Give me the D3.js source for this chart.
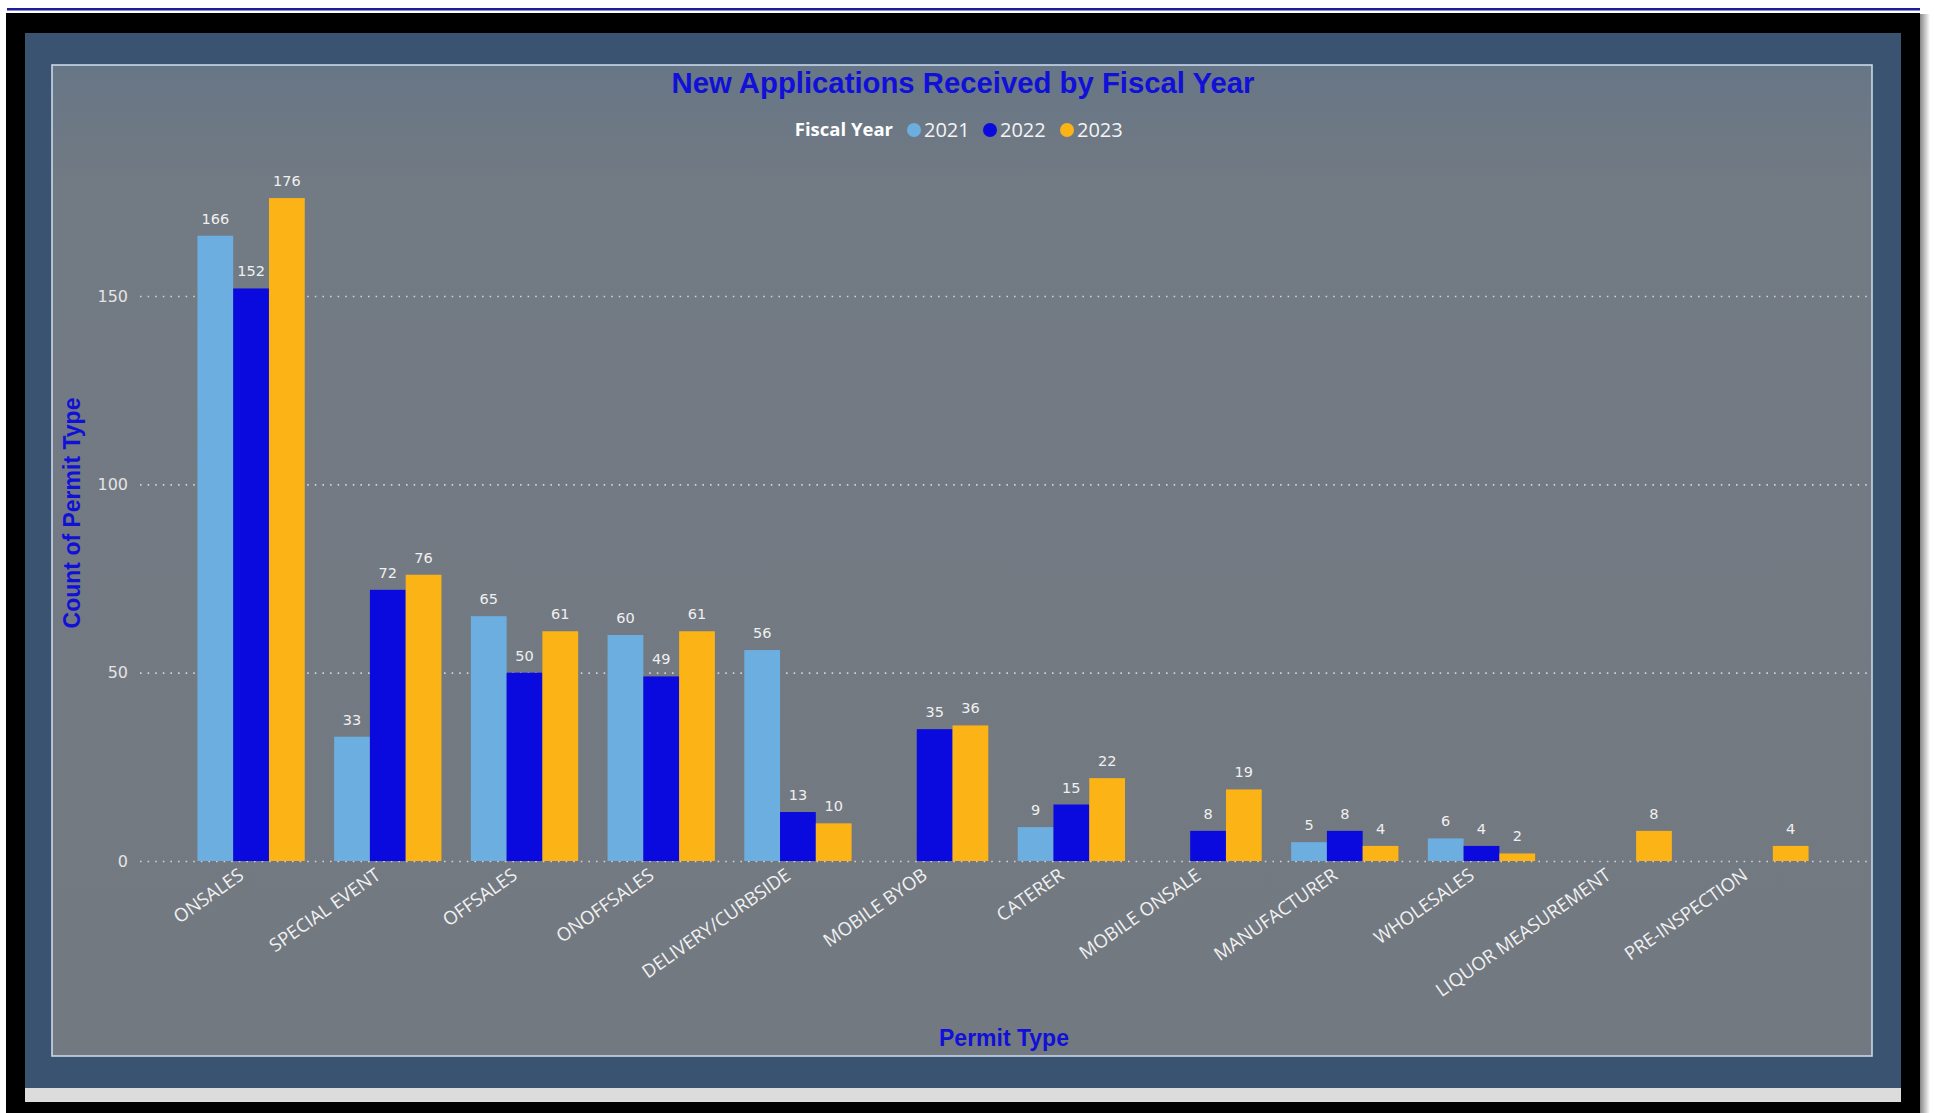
<!DOCTYPE html>
<html>
<head>
<meta charset="utf-8">
<script src="https://cdn.jsdelivr.net/npm/d3@7"></script>
<style>
  html, body { margin: 0; padding: 0; background: #ffffff; }
  svg { display: block; }
</style>
</head>
<body>
<svg id="chart" width="1934" height="1113"></svg>
<script>
// ---- data ----
const categories = ["ONSALES", "SPECIAL EVENT", "OFFSALES", "ONOFFSALES", "DELIVERY/CURBSIDE",
  "MOBILE BYOB", "CATERER", "MOBILE ONSALE", "MANUFACTURER", "WHOLESALES",
  "LIQUOR MEASUREMENT", "PRE-INSPECTION"];
const years = ["2021", "2022", "2023"];
const values2021 = [166, 33, 65, 60, 56, null, 9, null, 5, 6, null, null];
const values2022 = [152, 72, 50, 49, 13, 35, 15, 8, 8, 4, null, null];
const values2023 = [176, 76, 61, 61, 10, 36, 22, 19, 4, 2, 8, 4];
const yTicks = [0, 50, 100, 150];
const yearColors = ["#6caee0", "#0a0ade", "#fbb315"];

const series = [values2021, values2022, values2023];
const rows = categories.map((c, i) => ({ cat: c, vals: years.map((y, k) => ({ year: y, k, v: series[k][i] })) }));

const svg = d3.select("#chart");

// ---- frame ----
const defs = svg.append("defs");
const g1 = defs.append("linearGradient").attr("id", "panelGrad").attr("x1", 0).attr("y1", 0).attr("x2", 0).attr("y2", 1);
g1.append("stop").attr("offset", "0").attr("stop-color", "#677686");
g1.append("stop").attr("offset", "0.12").attr("stop-color", "#727a83");
g1.append("stop").attr("offset", "1").attr("stop-color", "#737981");
const sh = defs.append("linearGradient").attr("id", "shadowGrad").attr("x1", 0).attr("y1", 0).attr("x2", 1).attr("y2", 0);
sh.append("stop").attr("offset", "0").attr("stop-color", "#888");
sh.append("stop").attr("offset", "1").attr("stop-color", "#fff");

svg.append("rect").attr("x", 1920).attr("y", 14).attr("width", 10).attr("height", 1099).attr("fill", "url(#shadowGrad)");
svg.append("rect").attr("x", 7).attr("y", 8).attr("width", 1913).attr("height", 2.5).attr("fill", "#1c1c9c");
svg.append("rect").attr("x", 6).attr("y", 13).attr("width", 1914).attr("height", 1100).attr("fill", "#000");
svg.append("rect").attr("x", 25).attr("y", 33).attr("width", 1876).attr("height", 1056).attr("fill", "#3a5371");
svg.append("rect").attr("x", 25).attr("y", 1088).attr("width", 1876).attr("height", 14).attr("fill", "#dcdcdc");
svg.append("rect").attr("x", 52).attr("y", 65).attr("width", 1820).attr("height", 991)
  .attr("fill", "url(#panelGrad)").attr("stroke", "#c9d8ea").attr("stroke-width", 1.6);

// ---- scales ----
const x0 = d3.scaleBand().domain(categories).range([140, 1866]).paddingInner(0.215).paddingOuter(0.42);
const x1 = d3.scaleBand().domain(years).range([0, x0.bandwidth()]);
const y = d3.scaleLinear().domain([0, 150]).range([861, 296]);

// ---- y axis + grid ----
const yAxis = svg.append("g").attr("transform", "translate(140,0)")
  .call(d3.axisLeft(y).tickValues(yTicks).tickSize(-(1869 - 140)).tickPadding(12).tickFormat(d3.format("d")));
yAxis.select(".domain").remove();
yAxis.selectAll(".tick line").attr("stroke", "#cfd3d8").attr("stroke-width", 1.6).attr("stroke-dasharray", "1.6,6");
yAxis.selectAll(".tick text").attr("fill", "#e4e4e4").attr("font-family", "'DejaVu Sans', Verdana, sans-serif").attr("font-size", 16);

// ---- bars ----
const groups = svg.append("g").selectAll("g").data(rows).join("g")
  .attr("transform", d => `translate(${x0(d.cat)},0)`);
groups.selectAll("rect").data(d => d.vals.filter(e => e.v != null)).join("rect")
  .attr("x", e => x1(e.year)).attr("width", x1.bandwidth())
  .attr("y", e => y(e.v)).attr("height", e => y(0) - y(e.v))
  .attr("fill", e => yearColors[e.k]);
groups.selectAll("text").data(d => d.vals.filter(e => e.v != null)).join("text")
  .attr("x", e => x1(e.year) + x1.bandwidth() / 2).attr("y", e => y(e.v) - 12)
  .attr("text-anchor", "middle").attr("fill", "#f0f0f0")
  .attr("font-family", "'DejaVu Sans', Verdana, sans-serif").attr("font-size", 14.5)
  .text(e => e.v);

// ---- x axis ----
const xAxis = svg.append("g").attr("transform", "translate(0,861)")
  .call(d3.axisBottom(x0).tickSize(0).tickPadding(0));
xAxis.select(".domain").remove();
xAxis.selectAll(".tick text")
  .attr("transform", "translate(-6,17) rotate(-35)")
  .attr("y", 0).attr("dy", 0)
  .attr("text-anchor", "end").attr("fill", "#f0f0f0")
  .attr("font-family", "'Open Sans', sans-serif").attr("font-size", 18.5);

// ---- titles ----
svg.append("text").attr("x", 963).attr("y", 83).attr("dy", "0.35em").attr("text-anchor", "middle")
  .attr("fill", "#1010d8").attr("font-family", "'Liberation Sans', Arial, sans-serif").attr("font-weight", "bold")
  .attr("font-size", 29.3).text("New Applications Received by Fiscal Year");

svg.append("text").attr("transform", "translate(72,513) rotate(-90)").attr("dy", "0.35em").attr("text-anchor", "middle")
  .attr("fill", "#1010d8").attr("font-family", "'Liberation Sans', Arial, sans-serif").attr("font-weight", "bold")
  .attr("font-size", 23).text("Count of Permit Type");

svg.append("text").attr("x", 1004).attr("y", 1038).attr("dy", "0.35em").attr("text-anchor", "middle")
  .attr("fill", "#1010d8").attr("font-family", "'Liberation Sans', Arial, sans-serif").attr("font-weight", "bold")
  .attr("font-size", 23).text("Permit Type");

// ---- legend ----
const legend = svg.append("g").attr("transform", "translate(0,130)");
legend.append("text").attr("x", 893).attr("y", 0).attr("dy", "0.35em").attr("text-anchor", "end")
  .attr("fill", "#ffffff").attr("font-family", "'Open Sans', sans-serif").attr("font-weight", "bold")
  .attr("font-size", 18.5).text("Fiscal Year");
const legendX = [914, 990, 1067];
const li = legend.selectAll("g.item").data(years).join("g").attr("class", "item")
  .attr("transform", (d, i) => `translate(${legendX[i]},0)`);
li.append("circle").attr("r", 7).attr("fill", (d, i) => yearColors[i]);
li.append("text").attr("x", 10).attr("dy", "0.35em").attr("fill", "#f4f4f4")
  .attr("font-family", "'Open Sans', sans-serif").attr("font-size", 20).text(d => d);
</script>
</body>
</html>
